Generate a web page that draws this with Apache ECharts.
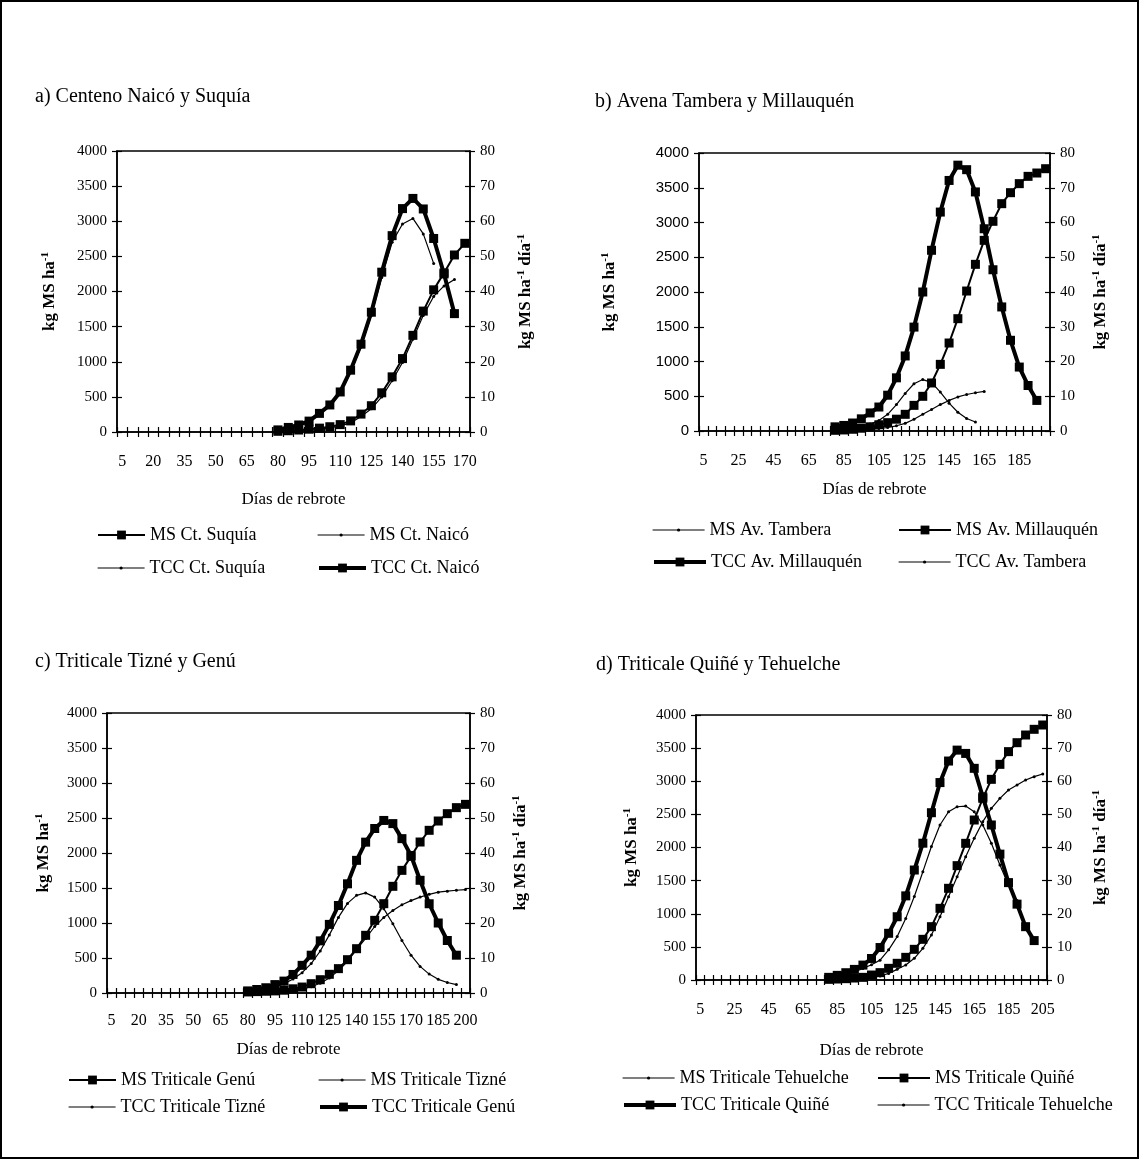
<!DOCTYPE html>
<html>
<head>
<meta charset="utf-8">
<script src="https://cdn.jsdelivr.net/npm/echarts@6/dist/echarts.min.js"></script>
<style>
  html, body { margin: 0; padding: 0; background: #fff; }
  #chart { width: 1140px; height: 1160px; }
</style>
</head>
<body>
<div id="chart"></div>
<script>
  // días de rebrote (categorías del eje x de cada panel)
  var diasA = [5, 10, 15, 20, 25, 30, 35, 40, 45, 50, 55, 60, 65, 70, 75, 80, 85, 90, 95, 100, 105, 110, 115, 120, 125, 130, 135, 140, 145, 150, 155, 160, 165, 170];
  var diasB = [5, 10, 15, 20, 25, 30, 35, 40, 45, 50, 55, 60, 65, 70, 75, 80, 85, 90, 95, 100, 105, 110, 115, 120, 125, 130, 135, 140, 145, 150, 155, 160, 165, 170, 175, 180, 185, 190, 195, 200];
  var diasC = [5, 10, 15, 20, 25, 30, 35, 40, 45, 50, 55, 60, 65, 70, 75, 80, 85, 90, 95, 100, 105, 110, 115, 120, 125, 130, 135, 140, 145, 150, 155, 160, 165, 170, 175, 180, 185, 190, 195, 200];
  var diasD = [5, 10, 15, 20, 25, 30, 35, 40, 45, 50, 55, 60, 65, 70, 75, 80, 85, 90, 95, 100, 105, 110, 115, 120, 125, 130, 135, 140, 145, 150, 155, 160, 165, 170, 175, 180, 185, 190, 195, 200, 205];

  // marcas de los ejes y
  var ticksMs = [0, 4000, 500];   // min, max, intervalo (kg MS ha-1)
  var ticksTcc = [0, 80, 10];     // min, max, intervalo (kg MS ha-1 día-1)

  // todas las series empiezan el día 80
  var inicio = 80;

  // a) Centeno (MS en kg MS ha-1, TCC en kg MS ha-1 día-1)
  var msSuquia = [10, 18, 28, 40, 55, 75, 105, 158, 255, 374, 558, 785, 1045, 1376, 1721, 2024, 2265, 2520, 2686];
  var msNaico = [0, 5, 12, 22, 38, 58, 85, 130, 220, 330, 500, 730, 990, 1320, 1660, 1930, 2080, 2170];
  var tccSuquia = [0.5, 1.2, 1.9, 3.0, 5.1, 7.4, 11.1, 17.0, 24.2, 33.2, 44.0, 54.0, 59.2, 60.8, 56.4, 48.0];
  var tccNaico = [0.6, 1.3, 2.0, 3.1, 5.3, 7.7, 11.4, 17.6, 25.0, 34.1, 45.5, 55.9, 63.6, 66.5, 63.5, 55.1, 45.0, 33.7];

  // b) Avena
  var msTambera = [5, 8, 12, 18, 25, 35, 50, 75, 110, 170, 240, 310, 380, 440, 490, 525, 550, 570];
  var msMillauquen = [10, 15, 25, 40, 60, 90, 120, 170, 240, 369, 499, 691, 959, 1266, 1616, 2014, 2398, 2743, 3017, 3271, 3429, 3559, 3664, 3712, 3774];
  var tccMillauquen = [1.2, 1.6, 2.3, 3.5, 5.2, 6.9, 10.3, 15.3, 21.6, 29.9, 40.0, 52.0, 63.0, 72.1, 76.5, 75.2, 68.8, 58.2, 46.4, 35.7, 26.1, 18.4, 13.1, 8.8];
  var tccTambera = [0.4, 0.6, 0.9, 1.4, 2.0, 3.0, 4.8, 7.6, 10.8, 13.6, 14.8, 14.0, 11.2, 8.0, 5.4, 3.6, 2.6];

  // c) Triticale Tizné y Genú
  var msGenu = [15, 20, 25, 30, 40, 60, 85, 133, 190, 267, 348, 476, 633, 824, 1038, 1276, 1524, 1752, 1952, 2157, 2324, 2457, 2562, 2648, 2695];
  var msTizne = [5, 8, 12, 18, 25, 35, 55, 90, 140, 215, 320, 450, 620, 780, 950, 1080, 1180, 1260, 1320, 1370, 1410, 1440, 1455, 1468, 1478];
  var tccTizne = [0.4, 0.7, 1.1, 1.7, 2.6, 4.0, 5.8, 8.4, 12.0, 16.6, 21.6, 25.6, 27.9, 28.6, 27.4, 24.1, 19.8, 15.0, 10.8, 7.6, 5.4, 3.9, 3.0, 2.4];
  var tccGenu = [0.6, 1.0, 1.5, 2.4, 3.4, 5.3, 7.9, 10.8, 14.9, 19.6, 25.0, 31.2, 37.9, 43.1, 47.0, 49.3, 48.4, 44.1, 39.3, 32.2, 25.5, 20.0, 15.0, 10.8];

  // d) Triticale Quiñé y Tehuelche
  var msTehuelche = [5, 8, 12, 18, 28, 40, 60, 100, 161, 226, 327, 478, 679, 956, 1258, 1560, 1862, 2138, 2390, 2591, 2742, 2868, 2943, 3019, 3069, 3109];
  var msQuine = [10, 15, 20, 30, 40, 75, 111, 176, 252, 342, 463, 614, 805, 1082, 1384, 1726, 2063, 2415, 2742, 3029, 3255, 3447, 3582, 3698, 3784, 3849];
  var tccQuine = [0.8, 1.4, 2.2, 3.2, 4.5, 6.5, 9.8, 14.1, 19.1, 25.4, 33.2, 41.3, 50.5, 59.6, 66.1, 69.4, 68.4, 63.9, 55.3, 46.8, 38.0, 29.4, 22.9, 16.1, 11.9];
  var tccTehuelche = [0.6, 1.0, 1.6, 2.4, 3.5, 4.6, 6.0, 9.1, 13.1, 18.6, 25.2, 32.7, 40.3, 46.8, 50.8, 52.3, 52.5, 50.8, 46.8, 41.3, 34.7, 28.7, 24.0];

  var serif = "'Liberation Serif', 'Times New Roman', serif";

  // estilos de línea
  var estilos = {
    gruesa: { width: 4, symbol: 'rect', size: 9, z: 4, ley: 11 },
    cuadro: { width: 2, symbol: 'rect', size: 9, z: 3, ley: 11 },
    fina: { width: 1.2, symbol: 'circle', size: 3, z: 2, ley: 4 }
  };

  var paneles = [
    {
      titulo: 'a) Centeno Naicó y Suquía', tl: 35, tt: 87,
      grid: { left: 117, top: 151, width: 353, height: 281 },
      dias: diasA, cada: 2, margenX: 22, gapX: 59, gapMs: 58, gapTcc: 46, fuenteMs: serif, ancho: 47,
      series: [
        { nombre: 'MS Ct. Suquía', vals: msSuquia, estilo: 'cuadro', eje: 'ms', x: 97, y: 535 },
        { nombre: 'MS Ct. Naicó', vals: msNaico, estilo: 'fina', eje: 'ms', x: 317, y: 535 },
        { nombre: 'TCC Ct. Suquía', vals: tccSuquia, estilo: 'fina', eje: 'tcc', x: 97, y: 568 },
        { nombre: 'TCC Ct. Naicó', vals: tccNaico, estilo: 'gruesa', eje: 'tcc', x: 317, y: 568 }
      ]
    },
    {
      titulo: 'b) Avena Tambera y Millauquén', tl: 595, tt: 92,
      grid: { left: 699, top: 153, width: 351, height: 278 },
      dias: diasB, cada: 3, margenX: 22, gapX: 50, gapMs: 80, gapTcc: 41, fuenteMs: "'Liberation Sans', sans-serif", ancho: 52,
      series: [
        { nombre: 'MS Av. Tambera', vals: msTambera, estilo: 'fina', eje: 'ms', x: 652, y: 530 },
        { nombre: 'MS Av. Millauquén', vals: msMillauquen, estilo: 'cuadro', eje: 'ms', x: 898, y: 530 },
        { nombre: 'TCC Av. Millauquén', vals: tccMillauquen, estilo: 'gruesa', eje: 'tcc', x: 652, y: 562 },
        { nombre: 'TCC Av. Tambera', vals: tccTambera, estilo: 'fina', eje: 'tcc', x: 898, y: 562 }
      ]
    },
    {
      titulo: 'c) Triticale Tizné y Genú', tl: 35, tt: 652,
      grid: { left: 107, top: 713, width: 363, height: 280 },
      dias: diasC, cada: 2, margenX: 20, gapX: 48, gapMs: 54, gapTcc: 41, fuenteMs: serif, ancho: 47,
      series: [
        { nombre: 'MS Triticale Genú', vals: msGenu, estilo: 'cuadro', eje: 'ms', x: 68, y: 1080 },
        { nombre: 'MS Triticale Tizné', vals: msTizne, estilo: 'fina', eje: 'ms', x: 318, y: 1080 },
        { nombre: 'TCC Triticale Tizné', vals: tccTizne, estilo: 'fina', eje: 'tcc', x: 68, y: 1107 },
        { nombre: 'TCC Triticale Genú', vals: tccGenu, estilo: 'gruesa', eje: 'tcc', x: 318, y: 1107 }
      ]
    },
    {
      titulo: 'd) Triticale Quiñé y Tehuelche', tl: 596, tt: 655,
      grid: { left: 696, top: 715, width: 351, height: 265 },
      dias: diasD, cada: 3, margenX: 22, gapX: 62, gapMs: 55, gapTcc: 44, fuenteMs: serif, ancho: 52,
      series: [
        { nombre: 'MS Triticale Tehuelche', vals: msTehuelche, estilo: 'fina', eje: 'ms', x: 622, y: 1078 },
        { nombre: 'MS Triticale Quiñé', vals: msQuine, estilo: 'cuadro', eje: 'ms', x: 877, y: 1078 },
        { nombre: 'TCC Triticale Quiñé', vals: tccQuine, estilo: 'gruesa', eje: 'tcc', x: 622, y: 1105 },
        { nombre: 'TCC Triticale Tehuelche', vals: tccTehuelche, estilo: 'fina', eje: 'tcc', x: 877, y: 1105 }
      ]
    }
  ];

  var richNombre = {
    n: { fontFamily: serif, fontSize: 17, fontWeight: 'bold', color: '#000' },
    s: { fontFamily: serif, fontSize: 11, fontWeight: 'bold', color: '#000', verticalAlign: 'top', padding: [0, 0, 8, 0] }
  };

  function sinComa(v) {
    return String(v);
  }

  function ejeY(gi, rango, pos, dentro, extra) {
    var eje = {
      gridIndex: gi, type: 'value', position: pos,
      min: rango[0], max: rango[1], interval: rango[2],
      splitLine: { show: false },
      axisLine: { show: !dentro, lineStyle: { color: '#000', width: 1.5 } },
      axisTick: { show: true, inside: dentro, length: 5, lineStyle: { color: '#000', width: 1.2 } },
      axisLabel: { show: false }
    };
    if (extra) {
      for (var k in extra) eje[k] = extra[k];
    }
    return eje;
  }

  var option = {
    animation: false,
    backgroundColor: '#fff',
    title: [], grid: [], xAxis: [], yAxis: [], series: [], legend: [],
    graphic: [{
      type: 'rect', silent: true,
      shape: { x: 1, y: 1, width: 1137, height: 1157 },
      style: { fill: null, stroke: '#000', lineWidth: 2 }
    }]
  };

  paneles.forEach(function (p, gi) {
    var cats = p.dias.map(String);
    option.title.push({
      text: p.titulo, left: p.tl, top: p.tt, padding: 0,
      textStyle: { fontFamily: serif, fontSize: 20, fontWeight: 'normal', color: '#000' }
    });
    option.grid.push({
      left: p.grid.left, top: p.grid.top, width: p.grid.width, height: p.grid.height,
      show: true, borderColor: '#000', borderWidth: 1.5, containLabel: false
    });
    // eje x principal (marcas hacia afuera) + copia con marcas hacia adentro
    option.xAxis.push({
      gridIndex: gi, type: 'category', data: cats, boundaryGap: true, position: 'bottom',
      axisLine: { onZero: false, lineStyle: { color: '#000', width: 1.5 } },
      axisTick: { show: true, interval: 0, length: 5, lineStyle: { color: '#000', width: 1.2 } },
      axisLabel: { interval: p.cada, margin: p.margenX, color: '#000', fontFamily: serif, fontSize: 16 },
      name: 'Días de rebrote', nameLocation: 'middle', nameGap: p.gapX,
      nameTextStyle: { fontFamily: serif, fontSize: 17, color: '#000' }
    });
    option.xAxis.push({
      gridIndex: gi, type: 'category', data: cats, boundaryGap: true, position: 'bottom',
      axisLine: { show: false, onZero: false },
      axisTick: { show: true, inside: true, interval: 0, length: 5, lineStyle: { color: '#000', width: 1.2 } },
      axisLabel: { show: false }
    });
    option.yAxis.push(ejeY(gi, ticksMs, 'left', false, {
      axisLabel: { show: true, margin: 10, color: '#000', fontFamily: p.fuenteMs, fontSize: 15, formatter: sinComa },
      name: '{n|kg MS ha}{s|-1}', nameLocation: 'middle', nameGap: p.gapMs, nameRotate: 90,
      nameTextStyle: { rich: richNombre }
    }));
    option.yAxis.push(ejeY(gi, ticksMs, 'left', true));
    option.yAxis.push(ejeY(gi, ticksTcc, 'right', false, {
      axisLabel: { show: true, margin: 10, color: '#000', fontFamily: serif, fontSize: 15, formatter: sinComa },
      name: '{n|kg MS ha}{s|-1}{n| día}{s|-1}', nameLocation: 'middle', nameGap: p.gapTcc, nameRotate: 90,
      nameTextStyle: { rich: richNombre }
    }));
    option.yAxis.push(ejeY(gi, ticksTcc, 'right', true));

    p.series.forEach(function (s) {
      var e = estilos[s.estilo];
      var desde = cats.indexOf(String(inicio));
      option.series.push({
        name: s.nombre, type: 'line',
        xAxisIndex: gi * 2, yAxisIndex: gi * 4 + (s.eje === 'ms' ? 0 : 2),
        data: s.vals.map(function (v, i) { return [cats[desde + i], v]; }),
        symbol: e.symbol, symbolSize: e.size, showAllSymbol: true, z: e.z,
        silent: true,
        lineStyle: { color: '#000', width: e.width },
        itemStyle: { color: '#000' }
      });
      // el recuadro de la leyenda lo fija el texto: se centra en y
      option.legend.push({
        data: [s.nombre], left: s.x, top: s.y - 9, padding: 0,
        itemWidth: p.ancho, itemHeight: e.ley, selectedMode: false,
        lineStyle: { color: '#000', width: e.width },
        itemStyle: { color: '#000' },
        textStyle: { fontFamily: serif, fontSize: 18, color: '#000' }
      });
    });
  });

  var chart = echarts.init(document.getElementById('chart'), null, { renderer: 'canvas' });
  chart.setOption(option);
</script>
</body>
</html>
